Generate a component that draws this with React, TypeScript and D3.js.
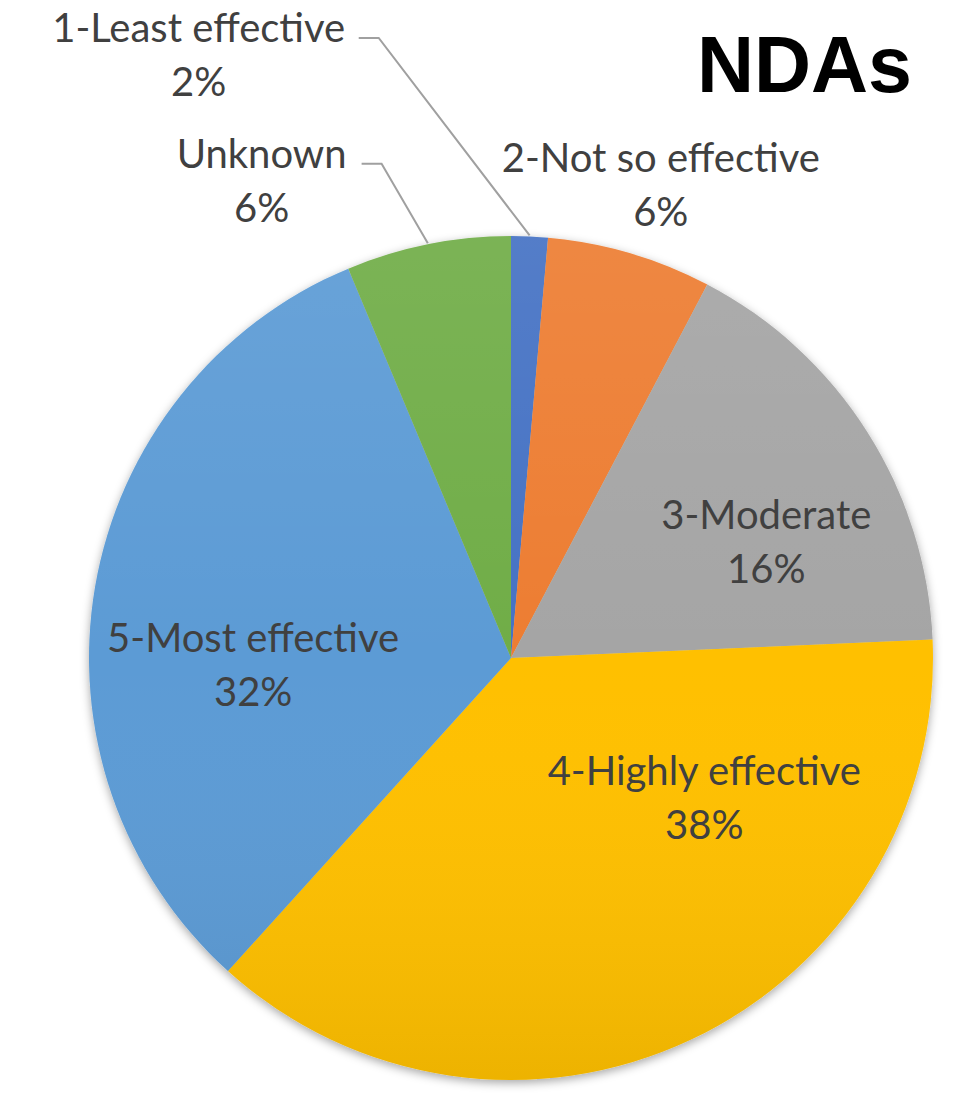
import React from "react";
import * as d3 from "d3";

const categories = ["1-Least effective", "2-Not so effective", "3-Moderate", "4-Highly effective", "5-Most effective", "Unknown"];
const values = [1.4, 6.3, 16.6, 37.4, 32.0, 6.3];
const percentLabels = ["2%", "6%", "16%", "38%", "32%", "6%"];
const colors = ["#4472C4", "#ED7D31", "#A5A5A5", "#FFC000", "#5B9BD5", "#70AD47"];
// label anchor (center of first line baseline) relative to pie centre, in units of radius
const labelOffsets: [number, number][] = [
  [-0.74, -1.46],
  [0.355, -1.152],
  [0.605, -0.305],
  [0.458, 0.3],
  [-0.611, -0.015],
  [-0.591, -1.162],
];
const outsideLabel = [true, true, false, false, false, true];

const W = 954;
const H = 1093;
const cx = 511;
const cy = 658;
const R = 422;

export default function App() {
  const pie = d3.pie<number>().sort(null).value((d) => d);
  const arcs = pie(values);
  const arc = d3.arc<d3.PieArcDatum<number>>().innerRadius(0).outerRadius(R);
  const fontSize = 40;
  const lineGap = 54;

  return (
    <svg width={W} height={H} style={{ position: "absolute", left: 0, top: 0, background: "#fff" }}>
      <defs>
        <filter id="shadow" x="-10%" y="-10%" width="120%" height="120%">
          <feDropShadow dx="0" dy="3" stdDeviation="5" floodColor="#000" floodOpacity="0.35" />
        </filter>
        <linearGradient id="shade" x1="0" y1="0" x2="0" y2="1">
          <stop offset="0" stopColor="#fff" stopOpacity="0.08" />
          <stop offset="0.5" stopColor="#fff" stopOpacity="0" />
          <stop offset="1" stopColor="#000" stopOpacity="0.07" />
        </linearGradient>
      </defs>
      <g transform={`translate(${cx},${cy})`}>
        <g filter="url(#shadow)">
          {arcs.map((a, i) => (
            <path key={i} d={arc(a) || ""} fill={colors[i]} />
          ))}
        </g>
        <circle r={R} fill="url(#shade)" />
        {/* leader lines */}
        {arcs.map((a, i) => {
          if (!outsideLabel[i] || i === 1) return null;
          const [ox, oy] = labelOffsets[i];
          const lx = ox * R;
          const ly = oy * R - 4;
          const mid = a.startAngle + (a.endAngle - a.startAngle) * 0.5;
          const px = Math.sin(mid) * (R + 1);
          const py = -Math.cos(mid) * (R + 1);
          const startX = lx + (i === 0 ? 160 : 100);
          const elbowX = startX + 20;
          return (
            <polyline
              key={"l" + i}
              points={`${startX},${ly} ${elbowX},${ly} ${px},${py}`}
              fill="none"
              stroke="#A0A0A0"
              strokeWidth={2}
            />
          );
        })}
        {arcs.map((a, i) => {
          const [ox, oy] = labelOffsets[i];
          const x = ox * R;
          const y = oy * R;
          return (
            <text
              key={"t" + i}
              x={x}
              y={y}
              textAnchor="middle"
              fontFamily="Lato, 'Open Sans', sans-serif"
              fontSize={fontSize}
              fill="#404040"
            >
              <tspan x={x} y={y}>{categories[i]}</tspan>
              <tspan x={x} y={y + lineGap}>{percentLabels[i]}</tspan>
            </text>
          );
        })}
      </g>
      <text x={912} y={92} textAnchor="end" fontFamily="'Liberation Sans', Arial, sans-serif" fontWeight="bold" fontSize={79} fill="#000">
        NDAs
      </text>
    </svg>
  );
}
